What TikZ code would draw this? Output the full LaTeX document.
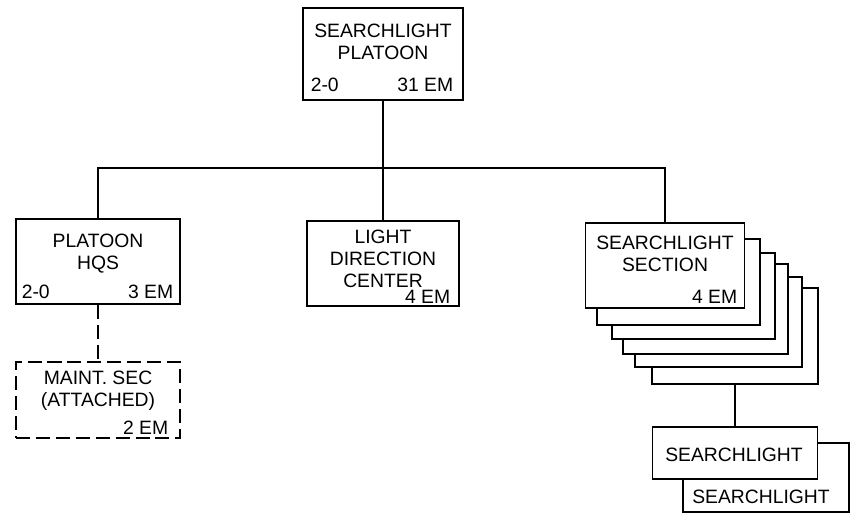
\documentclass[tikz,border=0pt]{standalone}
\usepackage{fontspec}
\setmainfont{Liberation Sans}
\begin{document}
\begin{tikzpicture}[x=0.03cm,y=-0.03cm,line width=1.3pt,
  every node/.style={font=\fontsize{16.5}{19}\selectfont,inner sep=0pt},
  unit/.style={draw,fill=white,rectangle},
  title/.style={align=center},
  attached/.style={dash pattern=on 12pt off 5pt}]
\useasboundingbox (0,0) rectangle (851,517);
% platoon
\node[unit,minimum width=4.8cm,minimum height=2.76cm] (plt) at (383,54) {};
\node[title] (plt-t) at (383,42) {SEARCHLIGHT\\PLATOON};
\node[anchor=base west] (plt-l) at (310,92) {2-0};
\node[anchor=base east] (plt-r) at (454,92) {31 EM};
% headquarters and attached section
\node[unit,minimum width=4.92cm,minimum height=2.55cm] (hq) at (98,261.5) {};
\node[title] (hq-t) at (98,253.5) {PLATOON\\HQS};
\node[anchor=base west] (hq-l) at (21,299) {2-0};
\node[anchor=base east] (hq-r) at (174,299) {3 EM};
\node[unit,attached,minimum width=4.92cm,minimum height=2.28cm] (mnt) at (98,400) {};
\node[title] (mnt-t) at (98,391) {MAINT. SEC\\(ATTACHED)};
\node[anchor=base east] (mnt-r) at (169,434) {2 EM};
% light direction center
\node[unit,minimum width=4.56cm,minimum height=2.55cm] (ldc) at (383,263.5) {};
\node[title] (ldc-t) at (383,259) {LIGHT\\DIRECTION\\CENTER};
\node[anchor=base east] (ldc-r) at (451,304) {4 EM};
% searchlight sections (stacked)
\foreach \n/\x/\y/\w/\h in {6/735/336/4.98/2.88, 5/718.5/322/5.01/2.7,
    4/705.5/309/4.95/2.7, 3/693.5/296/4.89/2.58, 2/678.5/282/4.89/2.58}
  \node[unit,minimum width=\w cm,minimum height=\h cm] (sec\n) at (\x,\y) {};
\node[unit,minimum width=4.77cm,minimum height=2.55cm] (sec) at (665,265.5) {};
\node[title] (sec-t) at (665,254) {SEARCHLIGHT\\SECTION};
\node[anchor=base east] (sec-r) at (738,304) {4 EM};
% searchlights
\node[unit,minimum width=4.98cm,minimum height=2.07cm] (sl2) at (766,477.5) {};
\node (sl2-t) at (761,497) {SEARCHLIGHT};
\node[unit,minimum width=4.95cm,minimum height=1.56cm] (sl1) at (735,453) {};
\node (sl1-t) at (734,455) {SEARCHLIGHT};
% connectors
\coordinate (bar) at (383,168);
\draw (plt.south) -- (bar);
\draw (hq.north) |- (bar) -| (sec.north);
\draw (bar) -- (ldc.north);
\draw[attached] (hq.south) -- (mnt.north);
\draw (sec6.south) -- (sl1.north);
\end{tikzpicture}
\end{document}
